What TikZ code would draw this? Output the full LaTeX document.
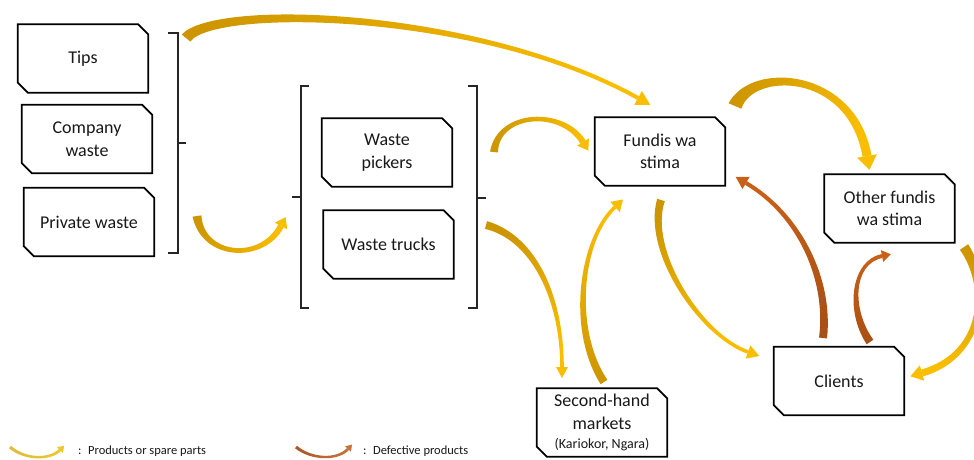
\documentclass[tikz,border=0pt]{standalone}
\usepackage{fontspec}
\setmainfont{Carlito}
\usetikzlibrary{calc}
\definecolor{ycol}{RGB}{250,190,0}
\definecolor{ycold}{RGB}{205,150,0}
\definecolor{bcol}{RGB}{200,96,24}
\definecolor{bcold}{RGB}{170,80,20}
\definecolor{lycol}{RGB}{236,200,40}
\definecolor{lycold}{RGB}{220,190,60}
\definecolor{lbcol}{RGB}{196,115,60}
\definecolor{lbcold}{RGB}{170,90,45}
\definecolor{txt}{RGB}{25,25,25}
% tapered curved arrow: #1 colour name (#1 and #1d defined), #2 tail, #3 control 1, #4 control 2,
% #5 head base, #6 tail half-width, #7 head-end half-width, #8 head half-width, #9 head length
\newcommand{\tarr}[9]{%
  \path let \p1=($(#2)-(#5)$), \n1={atan2(\y1,\x1)+90} in \pgfextra{\xdef\tarrang{\n1}};
  \shade[top color=#1, bottom color=#1d, shading angle=\tarrang]
    ($(#2)!#6!90:(#3)$) .. controls ($(#3)!#6!90:(#4)$) and ($(#4)!#7!90:(#5)$) ..
    ($(#5)!#7!-90:(#4)$) -- ($(#5)!#7!90:(#4)$) .. controls ($(#4)!#7!-90:(#5)$) and ($(#3)!#6!-90:(#4)$) ..
    ($(#2)!#6!-90:(#3)$) -- cycle;
  \fill[#1] ($(#5)!#8!90:(#4)$) -- ($(#5)!-#9!(#4)$) -- ($(#5)!#8!-90:(#4)$) -- cycle;
}
\tikzset{
  snipbox/.style={minimum width=130pt, minimum height=68pt, inner sep=0pt, align=center,
    text=txt, font=\fontsize{18}{22.5}\selectfont},
  boxline/.style={draw=black, line width=1.7pt, line join=miter},
  brack/.style={draw=black!85, line width=1.5pt},
  legend/.style={anchor=west, inner sep=0pt, text=txt, font=\fontsize{12.5}{14}\selectfont}
}
\begin{document}
\begin{tikzpicture}[x=1pt,y=-1pt]
\fill[white] (0,0) rectangle (974,459);
\useasboundingbox (0,0) rectangle (974,459);

% boxes
\node[snipbox] (tips) at (83,58.5) {Tips};
\node[snipbox] (company) at (87,139) {Company\\waste};
\node[snipbox] (private) at (89,222) {Private waste};
\node[snipbox] (pickers) at (387,152.5) {Waste\\pickers};
\node[snipbox] (trucks) at (388.5,244.5) {Waste trucks};
\node[snipbox] (fundis) at (660,151.5) {Fundis wa\\stima};
\node[snipbox] (other) at (889.5,208.5) {Other fundis\\wa stima};
\node[snipbox] (clients) at (839,381) {Clients};
\node[snipbox] (market) at (602,422.5) {Second-hand\\markets\\[-3pt]{\fontsize{14}{16}\selectfont (Kariokor, Ngara)}};

\foreach \n in {tips,company,private,pickers,trucks,fundis,other,clients,market}{
  \draw[boxline] (\n.north west) -- ([xshift=-10pt]\n.north east) -- ([yshift=-10pt]\n.north east)
    -- (\n.south east) -- ([xshift=10pt]\n.south west) -- ([yshift=10pt]\n.south west) -- cycle;
}

% brackets
\draw[brack] (168,33) -- (178,33) -- (178,253) -- (168,253);
\draw[brack] (178,143) -- (186,143);
\draw[brack] (309,86) -- (301,86) -- (301,308) -- (309,308);
\draw[brack] (301,197) -- (292,197);
\draw[brack] (468,86) -- (477,86) -- (477,308) -- (468,308);
\draw[brack] (477,198) -- (486,198);

% arrow end points
\coordinate (a1s) at (186,38);   \coordinate (a1e) at (638,98);
\coordinate (a2s) at (197,216);  \coordinate (a2e) at (281,226);
\coordinate (a3s) at (494,152);  \coordinate (a3e) at (583,142);
\coordinate (a4s) at (735,106);  \coordinate (a4e) at (867,156);
\coordinate (a5s) at (964,247);  \coordinate (a5e) at (922,373);
\coordinate (a6s) at (870,342);  \coordinate (a6e) at (882,256);
\coordinate (a7s) at (823,338);  \coordinate (a7e) at (746,183);
\coordinate (a8s) at (661,200);  \coordinate (a8e) at (748,352);
\coordinate (a9s) at (604,382);  \coordinate (a9e) at (615,207);
\coordinate (a10s) at (486,225); \coordinate (a10e) at (562,367);

% products / spare parts arrows
\tarr{ycol}{a1s}{215,3}{480,10}{a1e}{5.5pt}{2pt}{8pt}{14pt}
\tarr{ycol}{a2s}{203,258}{262,262}{a2e}{4.5pt}{3pt}{7pt}{10pt}
\tarr{ycol}{a3s}{498,112}{562,108}{a3e}{4pt}{3pt}{7pt}{10pt}
\tarr{ycol}{a4s}{752,66}{852,70}{a4e}{7pt}{4.5pt}{10pt}{14pt}
\tarr{ycol}{a5s}{990,285}{985,355}{a5e}{5pt}{3.5pt}{8pt}{12pt}
\tarr{ycol}{a8s}{645,250}{700,335}{a8e}{4pt}{1.8pt}{7pt}{12pt}
\tarr{ycol}{a9s}{570,330}{580,240}{a9e}{4pt}{1.8pt}{7pt}{11pt}
\tarr{ycol}{a10s}{535,238}{562,300}{a10e}{4pt}{1.8pt}{6pt}{11pt}
% defective products arrows
\tarr{bcol}{a6s}{848,310}{852,262}{a6e}{4pt}{2pt}{6pt}{9pt}
\tarr{bcol}{a7s}{830,280}{800,215}{a7e}{4pt}{2pt}{7pt}{12pt}

% legend
\coordinate (l1s) at (10,447); \coordinate (l1e) at (60,450);
\coordinate (l2s) at (296,447); \coordinate (l2e) at (348,449);
\tarr{lycol}{l1s}{25,460}{50,460}{l1e}{1.6pt}{1.4pt}{4pt}{6pt}
\tarr{lbcol}{l2s}{312,460}{338,460}{l2e}{1.6pt}{1.4pt}{4pt}{6pt}
\node[legend] (leg1) at (78,451) {:~ Products or spare parts};
\node[legend] (leg2) at (363,451) {:~ Defective products};
\end{tikzpicture}
\end{document}
